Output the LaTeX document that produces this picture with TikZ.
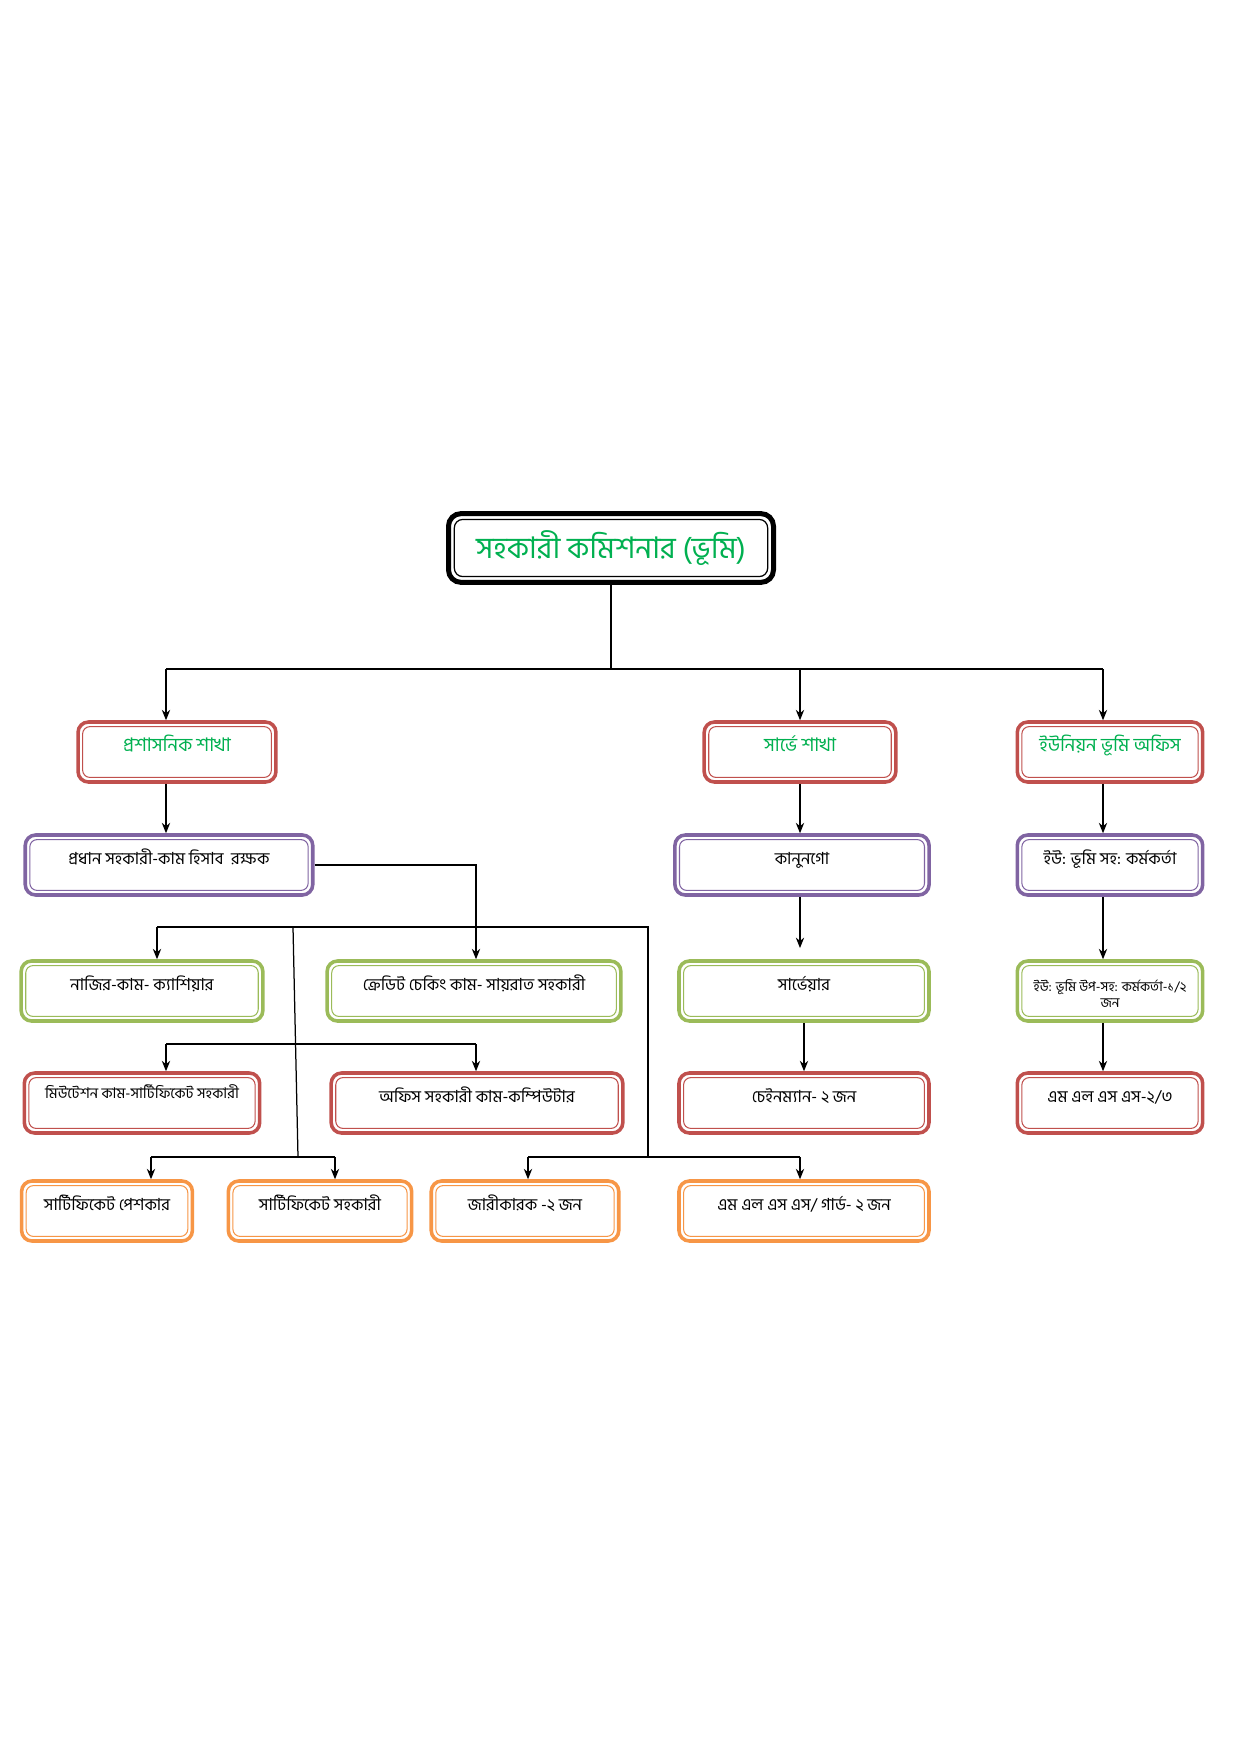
\documentclass[tikz,border=0pt]{standalone}
\usepackage{fontspec}
\newfontfamily\bn[Script=Bengali]{Hind Siliguri}
\usetikzlibrary{arrows.meta}

\definecolor{boxred}{RGB}{192,80,77}
\definecolor{boxpurple}{RGB}{128,100,162}
\definecolor{boxgreen}{RGB}{155,187,89}
\definecolor{boxorange}{RGB}{247,150,70}
\definecolor{headgreen}{RGB}{0,176,80}

\tikzset{
  office/.style={draw=#1, line width=1.7pt, rounded corners=5pt, fill=white,
    minimum height=28.8pt, inner xsep=2pt, inner ysep=2pt,
    text height=12pt, text depth=12.8pt,
    font=\bn\fontsize{8}{9.5}\selectfont,
    path picture={\draw[#1, line width=0.5pt, rounded corners=3.5pt]
      ([shift={(2.2pt,-2.2pt)}]path picture bounding box.north west) rectangle
      ([shift={(-2.2pt,2.2pt)}]path picture bounding box.south east);}},
  wing/.style={office=boxred, text=headgreen, font=\bn\fontsize{9}{11}\selectfont},
  bus/.style={line width=0.6pt},
  link/.style={line width=0.6pt, -{Stealth[length=5pt,width=4pt]}},
}

\begin{document}
\begin{tikzpicture}[x=0.48pt, y=-0.48pt]
    \useasboundingbox[fill=white] (0,0) rectangle (1240,1755);

    % Head of the office
    \node[draw, line width=2.4pt, rounded corners=6pt, fill=white,
          minimum width=156pt, minimum height=33pt,
          font=\bn\fontsize{14.3}{17}\selectfont, text=headgreen,
          path picture={\draw[line width=0.6pt, rounded corners=4pt]
            ([shift={(2.8pt,-2.8pt)}]path picture bounding box.north west) rectangle
            ([shift={(-2.8pt,2.8pt)}]path picture bounding box.south east);}]
        (chief) at (611,548) {সহকারী কমিশনার (ভূমি)};

    % Three wings
    \node[wing, minimum width=95pt] (admin)  at (177,752) {প্রশাসনিক শাখা};
    \node[wing, minimum width=92pt] (survey) at (800,752) {সার্ভে শাখা};
    \node[wing, minimum width=89pt] (union)  at (1110,752) {ইউনিয়ন ভূমি অফিস};

    % Second row
    \node[office=boxpurple, minimum width=138pt] (headasst) at (169,865) {প্রধান সহকারী-কাম হিসাব\ \ রক্ষক};
    \node[office=boxpurple, minimum width=122pt] (kanungo)  at (802,865) {কানুনগো};
    \node[office=boxpurple, minimum width=89pt]  (uofficer) at (1110,865) {ইউ: ভূমি সহ: কর্মকর্তা};

    % Third row
    \node[office=boxgreen, minimum width=116pt] (nazir)    at (142,991) {নাজির-কাম- ক্যাশিয়ার};
    \node[office=boxgreen, minimum width=141pt] (credit)   at (474,991) {ক্রেডিট চেকিং কাম- সায়রাত সহকারী};
    \node[office=boxgreen, minimum width=120pt] (surveyor) at (804,991) {সার্ভেয়ার};
    \node[office=boxgreen, minimum width=89pt, align=center,
          text height=20.5pt, text depth=4.3pt,
          font=\bn\fontsize{6.5}{8}\selectfont] (usubofficer) at (1110,991) {ইউ: ভূমি উপ-সহ: কর্মকর্তা-১/২\\জন};

    % Fourth row
    \node[office=boxred, minimum width=113pt, text height=10pt, text depth=14.8pt,
          font=\bn\fontsize{7.1}{8.5}\selectfont] (mutation) at (142,1103) {মিউটেশন কাম-সার্টিফিকেট সহকারী};
    \node[office=boxred, minimum width=140pt] (officeasst) at (477,1103) {অফিস সহকারী কাম-কম্পিউটার};
    \node[office=boxred, minimum width=120pt] (chainman)   at (804,1103) {চেইনম্যান- ২ জন};
    \node[office=boxred, minimum width=89pt]  (mlss)       at (1110,1103) {এম এল এস এস-২/৩};

    % Bottom row
    \node[office=boxorange, minimum width=82pt]  (certpesh)  at (107,1211) {সার্টিফিকেট পেশকার};
    \node[office=boxorange, minimum width=88pt]  (certasst)  at (320,1211) {সার্টিফিকেট সহকারী};
    \node[office=boxorange, minimum width=90pt]  (jari)      at (525,1211) {জারীকারক -২ জন};
    \node[office=boxorange, minimum width=120pt] (mlssguard) at (804,1211) {এম এল এস এস/ গার্ড- ২ জন};

    % Junction points
    \coordinate (hub)     at (611,669);
    \coordinate (hubL)    at (166,669);
    \coordinate (hubR)    at (1103,669);
    \coordinate (credTurn) at (476,868);
    \coordinate (midL)    at (157,927);
    \coordinate (midR)    at (648,927);
    \coordinate (stemT)   at (293,927);
    \coordinate (stemB)   at (298,1157);
    \coordinate (lowL)    at (151,1157);
    \coordinate (lowR)    at (335,1157);
    \coordinate (jarL)    at (528,1157);
    \coordinate (jarR)    at (800,1157);
    \coordinate (rowL)    at (166,1044);
    \coordinate (rowR)    at (476,1044);
    \coordinate (kanEnd)  at (800,948);

    % Top level
    \draw[bus] (chief.south) -- (hub);
    \draw[bus] (hubL) -- (hubR);
    \draw[link] (hubL) -- (hubL |- admin.north);
    \draw[link] (hub -| survey.north) -- (survey.north);
    \draw[link] (hubR) -- (hubR |- union.north);

    % Admin wing
    \draw[link] (admin.south -| hubL) -- (hubL |- headasst.north);
    \draw[link] (headasst.east) -- (headasst.east -| credTurn) -- (credTurn |- credit.north);
    \draw[bus] (midL) -- (midR) -- (midR |- jarR);
    \draw[link] (midL) -- (midL |- nazir.north);
    \draw[bus] (stemT) -- (stemB);
    \draw[bus] (lowL) -- (lowR);
    \draw[link] (lowL) -- (lowL |- certpesh.north);
    \draw[link] (lowR) -- (lowR |- certasst.north);
    \draw[bus] (jarL) -- (jarR);
    \draw[link] (jarL) -- (jarL |- jari.north);
    \draw[link] (jarR) -- (jarR |- mlssguard.north);
    \draw[bus] (rowL) -- (rowR);
    \draw[link] (rowL) -- (rowL |- mutation.north);
    \draw[link] (rowR) -- (rowR |- officeasst.north);

    % Survey wing
    \draw[link] (survey.south) -- (kanungo.north -| survey.south);
    \draw[link] (kanungo.south -| kanEnd) -- (kanEnd);
    \draw[link] (surveyor.south -| chainman.north) -- (chainman.north);

    % Union land office
    \draw[link] (union.south -| hubR) -- (hubR |- uofficer.north);
    \draw[link] (uofficer.south -| hubR) -- (hubR |- usubofficer.north);
    \draw[link] (usubofficer.south -| hubR) -- (hubR |- mlss.north);
\end{tikzpicture}
\end{document}
